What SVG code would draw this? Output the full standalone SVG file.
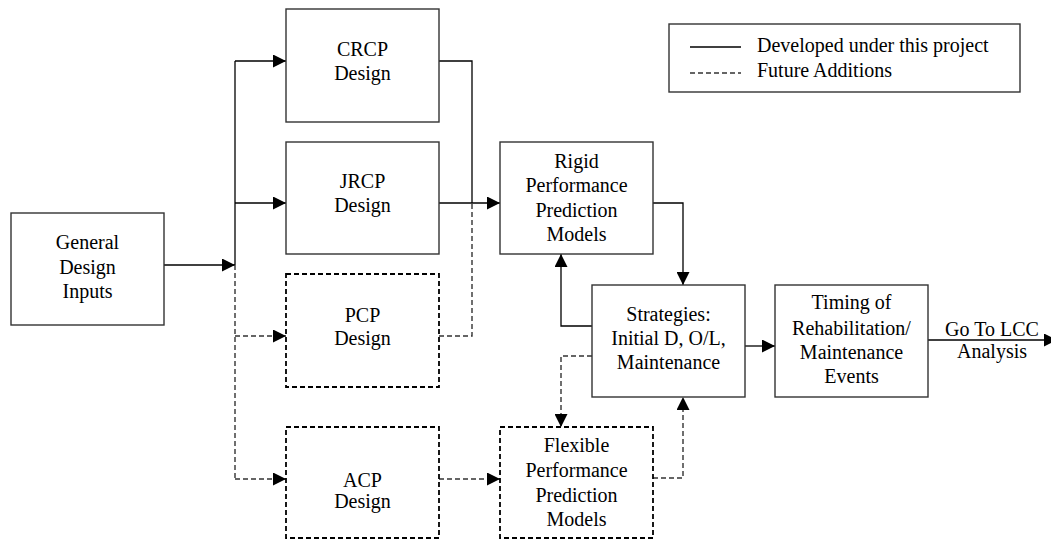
<svg xmlns="http://www.w3.org/2000/svg" width="1051" height="540" viewBox="0 0 1051 540">
<defs>
<marker id="ah" markerUnits="userSpaceOnUse" markerWidth="14" markerHeight="13" refX="13" refY="6.5" orient="auto">
<path d="M0,0 L13,6.5 L0,13 Z" fill="#000"/>
</marker>
<style>
.box{fill:#fff;stroke:#333;stroke-width:1.4}
.dbox{fill:#fff;stroke:#000;stroke-width:1.8;stroke-dasharray:5,3}
.c{fill:none;stroke:#000;stroke-width:1.3}
.dc{fill:none;stroke:#333;stroke-width:1.4;stroke-dasharray:5,3}
text{font-family:"Liberation Serif","Times New Roman",serif;font-size:20px;fill:#000;text-anchor:middle}
.l{text-anchor:start}
</style>
</defs>
<rect width="1051" height="540" fill="#fff"/>
<g id="connectors">
<path class="c" d="M164,265 H235" marker-end="url(#ah)"/>
<path class="c" d="M235,265 V61"/>
<path class="dc" d="M235,265 V479"/>
<path class="c" d="M235,61 H286" marker-end="url(#ah)"/>
<path class="c" d="M235,203 H286" marker-end="url(#ah)"/>
<path class="dc" d="M235,336 H286" marker-end="url(#ah)"/>
<path class="dc" d="M235,479 H286" marker-end="url(#ah)"/>
<path class="c" d="M439,61 H472 V203"/>
<path class="dc" d="M439,336 H472 V203"/>
<path class="c" d="M439,203 H500" marker-end="url(#ah)"/>
<path class="dc" d="M439,479 H500" marker-end="url(#ah)"/>
<path class="c" d="M653,203 H683 V285" marker-end="url(#ah)"/>
<path class="c" d="M592,326 H561 V254" marker-end="url(#ah)"/>
<path class="dc" d="M592,356 H561 V427" marker-end="url(#ah)"/>
<path class="dc" d="M653,478 H683 V397" marker-end="url(#ah)"/>
<path class="c" d="M745,346 H775" marker-end="url(#ah)"/>
<path class="c" d="M928,340 H1057" marker-end="url(#ah)"/>
<text x="992" y="336">Go To LCC</text>
<text x="992" y="358">Analysis</text>
</g>
<g id="general">
<rect class="box" x="11" y="213" width="153" height="112"/>
<text x="87.5" y="249">General</text>
<text x="87.5" y="274">Design</text>
<text x="87.5" y="298">Inputs</text>
</g>
<g id="crcp">
<rect class="box" x="286" y="9" width="153" height="113"/>
<text x="362.5" y="56">CRCP</text>
<text x="362.5" y="80">Design</text>
</g>
<g id="jrcp">
<rect class="box" x="286" y="142" width="153" height="112"/>
<text x="362.5" y="188">JRCP</text>
<text x="362.5" y="212">Design</text>
</g>
<g id="pcp">
<rect class="dbox" x="286" y="274" width="153" height="113"/>
<text x="362.5" y="322">PCP</text>
<text x="362.5" y="345">Design</text>
</g>
<g id="acp">
<rect class="dbox" x="286" y="427" width="153" height="111"/>
<text x="362.5" y="487">ACP</text>
<text x="362.5" y="508">Design</text>
</g>
<g id="rigid">
<rect class="box" x="500" y="142" width="153" height="112"/>
<text x="576.5" y="168">Rigid</text>
<text x="576.5" y="192">Performance</text>
<text x="576.5" y="216.5">Prediction</text>
<text x="576.5" y="241">Models</text>
</g>
<g id="flexible">
<rect class="dbox" x="500" y="427" width="153" height="111"/>
<text x="576.5" y="452">Flexible</text>
<text x="576.5" y="477">Performance</text>
<text x="576.5" y="501.5">Prediction</text>
<text x="576.5" y="526">Models</text>
</g>
<g id="strategies">
<rect class="box" x="592" y="285" width="153" height="112"/>
<text x="668.5" y="321">Strategies:</text>
<text x="668.5" y="345">Initial D, O/L,</text>
<text x="668.5" y="369">Maintenance</text>
</g>
<g id="timing">
<rect class="box" x="775" y="285" width="153" height="112"/>
<text x="851.5" y="309">Timing of</text>
<text x="851.5" y="335">Rehabilitation/</text>
<text x="851.5" y="358.5">Maintenance</text>
<text x="851.5" y="383">Events</text>
</g>
<g id="legend">
<rect class="box" x="669" y="24" width="351" height="68"/>
<line x1="690" y1="47" x2="741" y2="47" stroke="#000" stroke-width="1.3"/>
<line x1="690" y1="73" x2="741" y2="73" stroke="#333" stroke-width="1.4" stroke-dasharray="5,3"/>
<text class="l" x="757" y="52">Developed under this project</text>
<text class="l" x="757" y="77">Future Additions</text>
</g>
</svg>
